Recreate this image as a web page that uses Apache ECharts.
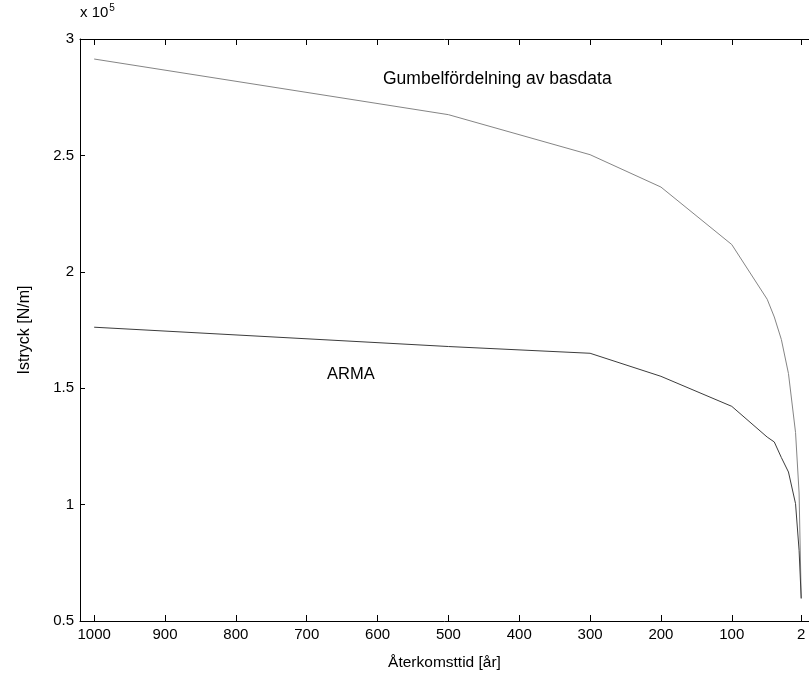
<!DOCTYPE html>
<html>
<head>
<meta charset="utf-8">
<script src="https://cdn.jsdelivr.net/npm/echarts@6/dist/echarts.min.js"></script>
<style>
  html, body { margin: 0; padding: 0; background: #fff; }
  #chart { width: 809px; height: 681px; }
</style>
</head>
<body>
<div id="chart"></div>
<script>
// återkomsttid [år]
var returnPeriods = [1000, 500, 300, 200, 100, 50, 40, 30, 20, 10, 5, 2];
// istryck, x 10^5 N/m
var gumbelValues = [2.914, 2.675, 2.503, 2.364, 2.117, 1.882, 1.806, 1.709, 1.563, 1.31, 1.05, 0.597];
var armaValues = [1.762, 1.679, 1.650, 1.551, 1.422, 1.290, 1.269, 1.202, 1.140, 1.004, 0.804, 0.597];
var xTicks = [1000, 900, 800, 700, 600, 500, 400, 300, 200, 100, 2];

var fontName = '"Liberation Sans", Arial, sans-serif';

function pairs(xs, ys) {
  return xs.map(function (x, i) { return [x, ys[i]]; });
}

var chart = echarts.init(document.getElementById('chart'));

var xCommon = {
  type: 'value',
  inverse: true,
  min: -9,
  max: 1020,
  splitLine: { show: false },
  axisLine: { onZero: false, lineStyle: { color: '#000', width: 1 } },
  axisTick: {
    inside: true,
    length: 6,
    customValues: xTicks,
    lineStyle: { color: '#000' }
  }
};

var option = {
  animation: false,
  backgroundColor: '#fff',
  grid: { left: 80, top: 39, right: 0, bottom: 60 },
  xAxis: [
    Object.assign({}, xCommon, {
      position: 'bottom',
      name: 'Återkomsttid [år]',
      nameLocation: 'middle',
      nameGap: 34,
      nameTextStyle: { fontFamily: fontName, fontSize: 15.5, color: '#000' },
      axisLabel: {
        customValues: xTicks,
        margin: 6,
        fontFamily: fontName,
        fontSize: 15,
        color: '#000',
        formatter: function (v) { return String(v); }
      }
    }),
    Object.assign({}, xCommon, {
      position: 'top',
      axisLabel: { show: false }
    })
  ],
  yAxis: {
    type: 'value',
    min: 0.5,
    max: 3,
    interval: 0.5,
    name: 'Istryck [N/m]',
    nameLocation: 'middle',
    nameGap: 47,
    nameTextStyle: { fontFamily: fontName, fontSize: 16, color: '#000' },
    splitLine: { show: false },
    axisLine: { show: true, onZero: false, lineStyle: { color: '#000', width: 1 } },
    axisTick: { show: true, inside: true, length: 5, lineStyle: { color: '#000' } },
    axisLabel: {
      margin: 6,
      fontFamily: fontName,
      fontSize: 15,
      color: '#000',
      formatter: function (v) { return String(v); }
    }
  },
  graphic: [
    {
      type: 'text',
      left: 80,
      top: 3,
      style: {
        text: 'x 10{sup|5}',
        font: '15px ' + fontName,
        fill: '#000',
        rich: {
          sup: { fontSize: 10, fontFamily: fontName, padding: [0, 0, 10, 1] }
        }
      }
    },
    {
      type: 'text',
      left: 383,
      top: 70,
      style: { text: 'Gumbelfördelning av basdata', font: '17.5px ' + fontName, fill: '#000' }
    },
    {
      type: 'text',
      left: 327,
      top: 366,
      style: { text: 'ARMA', font: '16.5px ' + fontName, fill: '#000' }
    }
  ],
  series: [
    {
      name: 'Gumbel',
      type: 'line',
      xAxisIndex: 0,
      data: pairs(returnPeriods, gumbelValues),
      showSymbol: false,
      lineStyle: { color: '#858585', width: 1 }
    },
    {
      name: 'ARMA',
      type: 'line',
      xAxisIndex: 0,
      data: pairs(returnPeriods, armaValues),
      showSymbol: false,
      lineStyle: { color: '#3c3c3c', width: 1 }
    }
  ]
};

chart.setOption(option);
</script>
</body>
</html>
